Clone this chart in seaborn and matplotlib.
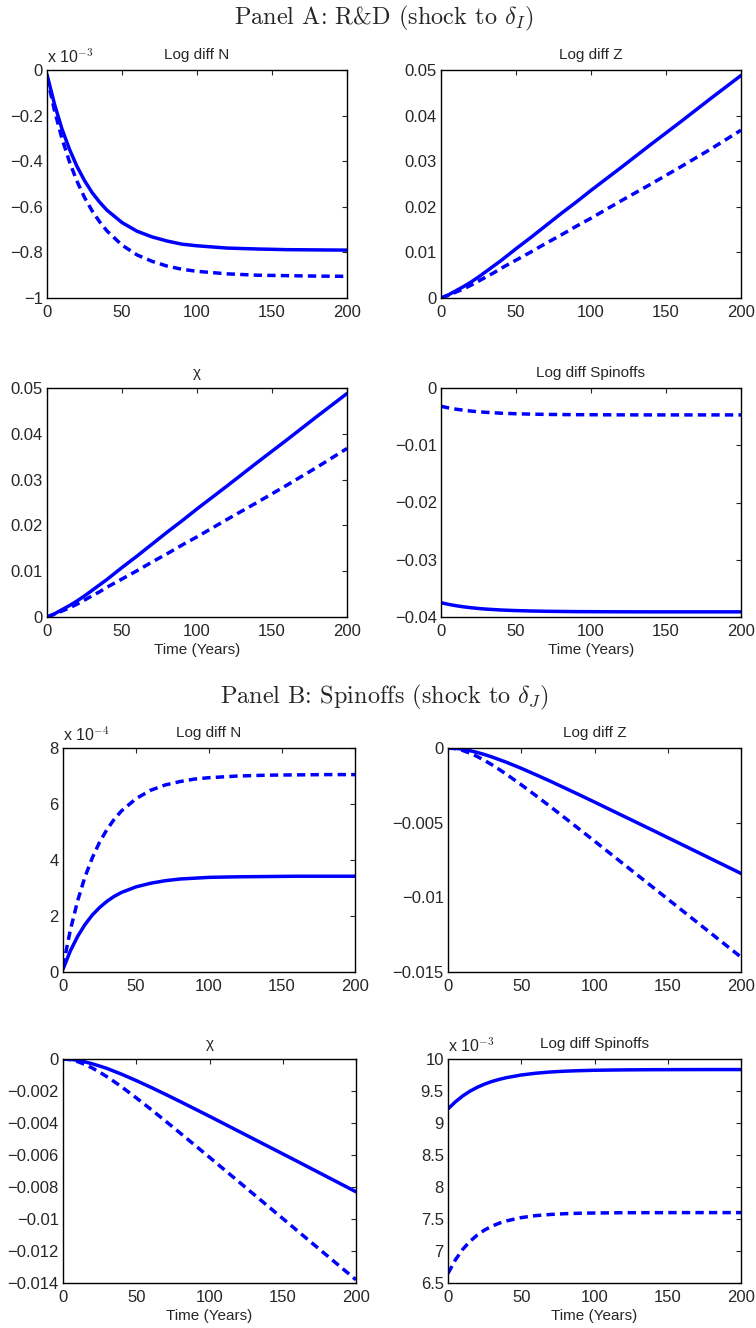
import numpy as np
import pandas as pd
import matplotlib
matplotlib.use("Agg")
import matplotlib.pyplot as plt
import seaborn as sns
from matplotlib.ticker import FuncFormatter

sns.set_style("white")
plt.rcParams['font.family'] = ['Liberation Sans', 'DejaVu Sans']
plt.rcParams['mathtext.fontset'] = 'cm'
plt.rcParams['xtick.direction'] = 'in'
plt.rcParams['ytick.direction'] = 'in'

# ---------------- data ----------------
T = [0, 5, 10, 15, 20, 25, 30, 35, 40, 50, 60, 70, 80, 90, 100, 120, 140, 160, 180, 200]

# Panel A (shock to delta_I)
nA_solid = [-0.020, -0.150, -0.259, -0.348, -0.423, -0.485, -0.537, -0.579, -0.615, -0.669,
            -0.707, -0.732, -0.750, -0.764, -0.771, -0.781, -0.785, -0.788, -0.789, -0.790]   # x 1e-3
nA_dash = [-0.030, -0.178, -0.301, -0.403, -0.488, -0.559, -0.617, -0.665, -0.706, -0.768,
           -0.811, -0.839, -0.860, -0.874, -0.883, -0.894, -0.900, -0.902, -0.904, -0.905]     # x 1e-3
zA_solid = [0, 0.0007, 0.0016, 0.0025, 0.0035, 0.0046, 0.0058, 0.0070, 0.0082, 0.0108,
            0.0133, 0.0159, 0.0185, 0.0210, 0.0236, 0.0286, 0.0337, 0.0387, 0.0438, 0.0488]
zA_dash = [0, 0.0006, 0.0013, 0.0020, 0.0028, 0.0037, 0.0046, 0.0055, 0.0065, 0.0083,
           0.0101, 0.0120, 0.0138, 0.0157, 0.0175, 0.0213, 0.0250, 0.0288, 0.0327, 0.0368]
chiA_solid = [0, 0.0007, 0.0016, 0.0025, 0.0035, 0.0046, 0.0058, 0.0070, 0.0082, 0.0108,
              0.0133, 0.0159, 0.0185, 0.0210, 0.0236, 0.0286, 0.0337, 0.0387, 0.0438, 0.0488]
chiA_dash = [0, 0.0006, 0.0013, 0.0020, 0.0028, 0.0037, 0.0046, 0.0055, 0.0065, 0.0083,
             0.0101, 0.0120, 0.0138, 0.0157, 0.0175, 0.0213, 0.0250, 0.0288, 0.0327, 0.0368]
sA_solid = [-0.03750, -0.03779, -0.03803, -0.03822, -0.03838, -0.03851, -0.03862, -0.03870, -0.03878, -0.03888,
            -0.03895, -0.03900, -0.03903, -0.03906, -0.03907, -0.03909, -0.03910, -0.03910, -0.03910, -0.03910]
sA_dash = [-0.00320, -0.00347, -0.00370, -0.00388, -0.00403, -0.00415, -0.00425, -0.00433, -0.00440, -0.00450,
           -0.00456, -0.00461, -0.00464, -0.00466, -0.00467, -0.00469, -0.00470, -0.00470, -0.00470, -0.00470]

# Panel B (shock to delta_J)
nB_solid = [0.10, 0.75, 1.27, 1.69, 2.03, 2.30, 2.52, 2.70, 2.84, 3.04,
            3.17, 3.26, 3.32, 3.35, 3.38, 3.40, 3.41, 3.42, 3.42, 3.42]   # x 1e-4
nB_dash = [0.20, 1.49, 2.54, 3.39, 4.07, 4.63, 5.08, 5.45, 5.75, 6.19,
           6.49, 6.68, 6.80, 6.89, 6.94, 7.00, 7.03, 7.04, 7.05, 7.05]    # x 1e-4
zB_solid = [0, -0.00002, -0.00008, -0.00018, -0.00030, -0.00044, -0.00060, -0.00078, -0.00096, -0.00136,
            -0.00179, -0.00223, -0.00269, -0.00315, -0.00362, -0.00457, -0.00552, -0.00648, -0.00744, -0.00840]
zB_dash = [0, -0.000045, -0.000166, -0.000346, -0.000573, -0.000835, -0.001125, -0.001438, -0.001767, -0.002462,
           -0.003190, -0.003937, -0.004697, -0.005463, -0.006234, -0.007784, -0.009338, -0.010892, -0.012448, -0.014004]
chiB_solid = [0, -0.00002, -0.00008, -0.00018, -0.00030, -0.00044, -0.00059, -0.00077, -0.00095, -0.00135,
              -0.00177, -0.00221, -0.00266, -0.00312, -0.00358, -0.00452, -0.00546, -0.00640, -0.00735, -0.00830]
chiB_dash = [0, -0.000044, -0.000164, -0.000341, -0.000565, -0.000823, -0.001109, -0.001417, -0.001742, -0.002427,
             -0.003144, -0.003881, -0.004630, -0.005385, -0.006145, -0.007673, -0.009205, -0.010736, -0.012270, -0.013800]
sB_solid = [9.220, 9.330, 9.422, 9.497, 9.558, 9.608, 9.649, 9.682, 9.709, 9.750,
            9.778, 9.797, 9.810, 9.818, 9.824, 9.830, 9.833, 9.834, 9.835, 9.835]   # x 1e-3
sB_dash = [6.650, 6.860, 7.024, 7.151, 7.250, 7.328, 7.388, 7.435, 7.471, 7.522,
           7.553, 7.571, 7.583, 7.590, 7.594, 7.598, 7.599, 7.600, 7.600, 7.600]   # x 1e-3

x_ticks = [0, 50, 100, 150, 200]

# ---------------- figure ----------------
W, H = 756, 1328
fig = plt.figure(figsize=(W / 100, H / 100), dpi=100)


def make_ax(l, r, t, b):
    return fig.add_axes([l / W, 1 - b / H, (r - l) / W, (b - t) / H])


def fmt(v, pos):
    s = '%g' % round(v, 6)
    if s == '-0':
        s = '0'
    return s.replace('-', '\u2212')


blue = (0, 0, 1)
dash_style = (0, (2.4, 1.5))


def panel(ax, solid, dash, title, ylim, yticks, exp=None, xlabel=False):
    df = pd.DataFrame({'t': T, 'solid': solid, 'dash': dash})
    sns.lineplot(data=df, x='t', y='solid', ax=ax, color=blue, lw=2.5, linestyle='-')
    sns.lineplot(data=df, x='t', y='dash', ax=ax, color=blue, lw=2.5, linestyle=dash_style)
    ax.set_xlim(0, 200)
    ax.set_ylim(*ylim)
    ax.set_xticks(x_ticks)
    ax.set_yticks(yticks)
    ax.yaxis.set_major_formatter(FuncFormatter(fmt))
    ax.xaxis.set_major_formatter(FuncFormatter(fmt))
    ax.tick_params(top=True, right=True, length=3.5, width=0.8, labelsize=12)
    ax.tick_params(axis='x', pad=5)
    ax.tick_params(axis='y', pad=3)
    for sp in ax.spines.values():
        sp.set_linewidth(1.0)
        sp.set_color('black')
        sp.set_visible(True)
    ax.set_title(title, fontsize=11, pad=8)
    ax.set_ylabel('')
    if xlabel:
        ax.set_xlabel('Time (Years)', fontsize=11, labelpad=3)
    else:
        ax.set_xlabel('')
    if exp is not None:
        ax.text(0.0, 1.02, r'x 10$^{%d}$' % exp, transform=ax.transAxes,
                fontsize=11.5, ha='left', va='bottom')


# Panel A
ax = make_ax(47, 347, 70, 298)
panel(ax, nA_solid, nA_dash, 'Log diff N', (-1, 0), [-1, -0.8, -0.6, -0.4, -0.2, 0], exp=-3)
ax = make_ax(441, 741, 70, 298)
panel(ax, zA_solid, zA_dash, 'Log diff Z', (0, 0.05), [0, 0.01, 0.02, 0.03, 0.04, 0.05])
ax = make_ax(47, 347, 388, 617)
panel(ax, chiA_solid, chiA_dash, '\u03c7', (0, 0.05), [0, 0.01, 0.02, 0.03, 0.04, 0.05], xlabel=True)
ax = make_ax(441, 741, 388, 617)
panel(ax, sA_solid, sA_dash, 'Log diff Spinoffs', (-0.04, 0), [-0.04, -0.03, -0.02, -0.01, 0], xlabel=True)

# Panel B
ax = make_ax(63, 355, 748, 972)
panel(ax, nB_solid, nB_dash, 'Log diff N', (0, 8), [0, 2, 4, 6, 8], exp=-4)
ax = make_ax(448, 741, 748, 972)
panel(ax, zB_solid, zB_dash, 'Log diff Z', (-0.015, 0), [-0.015, -0.01, -0.005, 0])
ax = make_ax(63, 356, 1059, 1283)
panel(ax, chiB_solid, chiB_dash, '\u03c7', (-0.014, 0),
      [-0.014, -0.012, -0.01, -0.008, -0.006, -0.004, -0.002, 0], xlabel=True)
ax = make_ax(448, 741, 1059, 1283)
panel(ax, sB_solid, sB_dash, 'Log diff Spinoffs', (6.5, 10),
      [6.5, 7, 7.5, 8, 8.5, 9, 9.5, 10], exp=-3, xlabel=True)

fig.text(384 / W, 1 - 18 / H, r'Panel A: R&D (shock to $\delta_I$)', ha='center', va='center',
         fontsize=17.5, family='cmr10')
fig.text(384 / W, 1 - 697 / H, r'Panel B: Spinoffs (shock to $\delta_J$)', ha='center', va='center',
         fontsize=17.5, family='cmr10')

fig.savefig('out.png', dpi=100)
